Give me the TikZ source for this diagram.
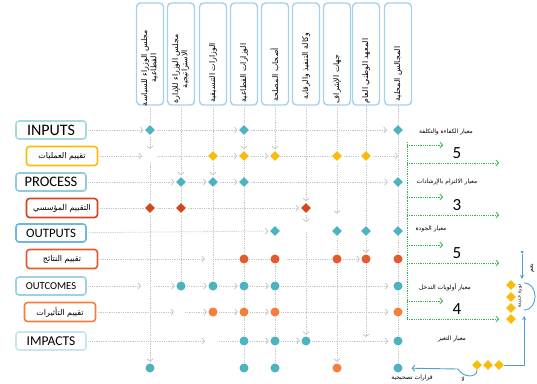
\documentclass[tikz,border=0pt]{standalone}
\usepackage{fontspec}
\setmainfont{Carlito}
\newfontfamily\arabicfont[Script=Arabic]{DejaVu Sans}
\TeXXeTstate=1
\usetikzlibrary{positioning,arrows.meta,shapes.geometric}
\newcommand{\artext}[1]{{\arabicfont\beginR #1\endR}}
\newcommand{\twoline}[2]{\begin{tabular}{@{}c@{}}\artext{#1}\\\artext{#2}\end{tabular}}
\definecolor{teal1}{HTML}{4DB3C1}
\definecolor{gold1}{HTML}{F9BC0A}
\definecolor{red1}{HTML}{D6441E}
\definecolor{rorange}{HTML}{E55A2C}
\definecolor{orange1}{HTML}{F47E3C}
\definecolor{hblue}{HTML}{A5D0EE}
\definecolor{gline}{HTML}{C3C7C9}
\definecolor{gr1}{HTML}{2FB54F}
\definecolor{bl1}{HTML}{4B9ED6}
\definecolor{inbl}{HTML}{A6D8E0}
\definecolor{prbl}{HTML}{8ECCD8}
\definecolor{oubl}{HTML}{6CB8DF}
\definecolor{ocbl}{HTML}{9ED0E6}
\definecolor{imbl}{HTML}{C9E6EE}

\begin{document}
\begin{tikzpicture}[x=1pt, y=-1pt, >={Straight Barb[length=2.5pt,width=6pt]}]
\tikzset{head/.style={draw=hblue, line width=1.4pt, rounded corners=4pt, minimum width=27pt, minimum height=102pt, inner sep=0pt},
 htxt/.style={rotate=90, inner sep=0pt, font=\fontsize{7.8}{9.2}\selectfont},
 stage/.style={draw, line width=1.6pt, rounded corners=3pt, minimum width=70pt, minimum height=18pt, inner sep=0pt},
 evbox/.style={draw, line width=1.6pt, rounded corners=3pt, minimum width=71pt, minimum height=19pt, inner sep=0pt, font=\fontsize{8}{9}\selectfont},
 tdia/.style={diamond, fill=teal1, minimum size=10pt, inner sep=0pt},
 ydia/.style={tdia, fill=gold1}, rdia/.style={tdia, fill=red1},
 tdot/.style={circle, fill=teal1, minimum size=9pt, inner sep=0pt},
 rdot/.style={tdot, fill=rorange}, odot/.style={tdot, fill=orange1},
 ydec/.style={diamond, fill=gold1, minimum size=10pt, inner sep=0pt},
 gl/.style={draw=gline, densely dotted, line width=0.8pt, shorten <=1.5pt, shorten >=1.5pt},
 ga/.style={gl, ->},
 gdot/.style={draw=gr1, densely dotted, line width=0.8pt},
 gn/.style={gdot, ->},
 bl/.style={draw=bl1, line width=0.9pt},
 crit/.style={font=\fontsize{6}{7}\selectfont, inner sep=0pt},
 num/.style={font=\fontsize{17}{17}\selectfont, inner sep=0pt}}
\useasboundingbox (0,0) rectangle (537,383);

% grid of stages x actors
\foreach \r/\y in {1/130,2/156,3/182,4/208,5/231,6/259,7/286,8/312,9/341,10/368}
  \foreach \c/\x in {1/150,2/181,3/213,4/244,5/275,6/306,7/337,8/366,9/398}
    \coordinate (p\r-\c) at (\x,\y);

% actors
\foreach \c/\x in {1/150,2/181,3/213,4/244,5/275,6/306,7/337,8/366,9/398}
  \node[head] (h\c) at (\x,54) {};
\node[htxt, xshift=-14pt] (ht1) at (h1) {\twoline{مجلس الوزراء للسياسة}{القطاعية}};
\node[htxt, xshift=-15pt] (ht2) at (h2) {\twoline{مجلس الوزراء للإدارة}{الاستراتيجية}};
\node[htxt, xshift=-19pt] (ht3) at (h3) {\artext{الوزارات التنسيقية}};
\node[htxt, xshift=-19pt] (ht4) at (h4) {\artext{الوزارات القطاعية}};
\node[htxt, xshift=-21pt] (ht5) at (h5) {\artext{أصحاب المصلحة}};
\node[htxt, xshift=-12pt] (ht6) at (h6) {\artext{وكالة التنفيذ والرقابة}};
\node[htxt, xshift=-25pt] (ht7) at (h7) {\artext{جهات الإشراف}};
\node[htxt, xshift=-17pt] (ht8) at (h8) {\artext{المعهد الوطني العام}};
\node[htxt, xshift=-20pt] (ht9) at (h9) {\artext{المجالس المحلية}};

% stages
\node[stage, draw=inbl, font=\fontsize{16}{16}\selectfont] (inputs) at (51,130) {INPUTS};
\node[evbox, draw=gold1] (evops) at (62,156) {\artext{تقييم العمليات}};
\node[stage, draw=prbl, font=\fontsize{14.5}{15}\selectfont] (process) at (51,182) {PROCESS};
\node[evbox, draw=red1] (evinst) at (62,208) {\artext{التقييم المؤسسي}};
\node[stage, draw=oubl, font=\fontsize{12.8}{13}\selectfont] (outputs) at (51,233) {OUTPUTS};
\node[evbox, draw=rorange] (evres) at (62,259) {\artext{تقييم النتائج}};
\node[stage, draw=ocbl, font=\fontsize{10.6}{11}\selectfont] (outcomes) at (51,286) {OUTCOMES};
\node[evbox, draw=orange1] (evimp) at (60,312) {\artext{تقييم التأثيرات}};
\node[stage, draw=imbl, font=\fontsize{13.5}{14}\selectfont] (impacts) at (51,341) {IMPACTS};

% markers
\foreach \n/\s in {1-1/tdia,1-4/tdia,1-9/tdia,2-3/ydia,2-4/ydia,2-5/ydia,2-7/ydia,2-8/ydia,
  3-2/tdia,3-3/tdia,3-4/tdia,3-9/tdia,4-1/rdia,4-2/rdia,4-6/rdia,5-5/tdia,5-7/tdia,5-8/tdia,5-9/tdia,
  6-4/rdot,6-5/rdot,6-7/rdot,6-8/rdot,6-9/rdot,7-2/tdot,7-3/tdot,7-4/tdot,7-5/tdot,7-9/tdot,
  8-3/odot,8-4/odot,8-5/odot,8-9/odot,9-4/tdot,9-5/tdot,9-6/tdot,9-9/tdot,
  10-1/tdot,10-4/tdot,10-5/tdot,10-7/odot,10-9/tdot}
  \node[\s] (m\n) at (p\n) {};

% rows
\draw[ga] (inputs) -- (m1-1); \draw[ga] (m1-1) -- (m1-4); \draw[ga, shorten >=6pt] (m1-4) -- (m1-9);
\draw[ga, shorten >=8pt] (evops) -- (p2-1); \draw[gl, shorten <=7pt] (p2-1) -- (m2-3); \draw[ga] (m2-3) -- (m2-4); \draw[ga] (m2-4) -- (m2-5);
\draw[gl] (m2-5) -- (m2-7) -- (m2-8); \draw[ga, shorten >=0pt] (m2-8) -- (p2-9);
\draw[ga] (process) -- (m3-2); \draw[ga] (m3-2) -- (m3-3); \draw[ga] (m3-3) -- (m3-4); \draw[ga, shorten >=5pt] (m3-4) -- (m3-9);
\draw[gl] (evinst) -- (m4-1) -- (m4-2); \draw[ga] (m4-2) -- (m4-6);
\draw[ga] (outputs) -- (m5-5);
\draw[ga, shorten >=8pt] (evres) -- (p6-3); \draw[gl, shorten <=6pt] (p6-3) -- (m6-4) -- (m6-5) -- (m6-7); \draw[ga] (m6-7) -- (m6-8);
\draw[ga, shorten >=9pt] (outcomes) -- (p7-1); \draw[ga, shorten <=4pt] (p7-1) -- (m7-2); \draw[ga] (m7-2) -- (m7-3); \draw[ga] (m7-3) -- (m7-4);
\draw[ga] (m7-4) -- (m7-5); \draw[ga, shorten >=5pt] (m7-5) -- (m7-9);
\draw[ga, shorten >=7pt] (evimp) -- (p8-2); \draw[ga, shorten <=4pt] (p8-2) -- (m8-3); \draw[ga] (m8-3) -- (m8-4); \draw[ga] (m8-4) -- (m8-5);
\draw[ga, shorten >=5pt] (m8-5) -- (m8-9);
\draw[ga, shorten >=8pt] (impacts) -- (p9-3); \draw[gl, shorten <=6pt] (p9-3) -- (m9-4); \draw[ga] (m9-4) -- (m9-5); \draw[ga] (m9-5) -- (m9-6);
\draw[ga, shorten >=5pt] (m9-6) -- (m9-9);

% columns
\draw[gl] (h1) -- (m1-1); \draw[ga, shorten >=7pt] (m1-1) -- (p2-1); \draw[gl, shorten <=6pt] (p2-1) -- (m4-1); \draw[ga] (m4-1) -- (m10-1);
\draw[ga] (h2) -- (m3-2); \draw[gl] (m3-2) -- (m4-2) -- (m7-2);
\draw[gl] (h3) -- (m2-3); \draw[ga] (m2-3) -- (m3-3); \draw[gl] (m3-3) -- (m7-3);
\draw[gl] (h4) -- (m1-4); \draw[ga] (m1-4) -- (m2-4); \draw[gl] (m2-4) -- (m3-4) -- (m6-4) -- (m7-4) -- (m8-4) -- (m9-4) -- (m10-4);
\draw[ga] (h5) -- (m2-5); \draw[gl] (m6-5) -- (m7-5) -- (m8-5) -- (m9-5) -- (m10-5);
\draw[ga] (h6) -- (m4-6); \draw[ga, shorten >=9pt] (m4-6) -- (p5-6); \draw[ga, shorten <=1pt] (p5-6) -- (m9-6);
\draw[gl] (h7) -- (m2-7); \draw[ga, shorten >=12pt] (m2-7) -- (m5-7); \draw[gl] (m5-7) -- (m6-7); \draw[ga] (m6-7) -- (m10-7);
\draw[gl] (h8) -- (m2-8) -- (m5-8); \draw[ga] (m5-8) -- (m6-8); \draw[ga, shorten >=4pt] (m6-8) -- (p9-8);
\draw[gl] (h9) -- (m1-9) -- (p2-9) -- (m3-9) -- (p4-9) -- (m5-9) -- (m6-9) -- (m7-9) -- (m8-9) -- (m9-9) -- (m10-9);

% criteria and scores
\node[crit] (k1) at (446,132) {\artext{معيار الكفاءة والتكلفة}};
\node[crit] (k2) at (447,182) {\artext{معيار الالتزام بالإرشادات}};
\node[crit] (k3) at (431,229) {\artext{معيار الجودة}};
\node[crit] (k4) at (445,287) {\artext{معيار أولويات التدخل}};
\node[crit] (k5) at (452,339) {\artext{معيار التغير}};
\coordinate (gtop) at (407,142); \coordinate (gbot) at (407,319);
\draw[gdot] (gtop) -- (gbot);
\foreach \i/\y/\v in {1/153/5,2/205/3,3/253/5,4/309/4}{
  \node[num] (n\i) at (457,\y) {\v};
  \coordinate (sh\i) at (407,{\y-8}); \coordinate (she\i) at (443,{\y-8});
  \coordinate (lo\i) at (407,{\y+10}); \coordinate (loe\i) at (499,{\y+10});
  \draw[gn] (sh\i) -- (she\i); \draw[gn] (lo\i) -- (loe\i);}

% decision loop
\foreach \i/\y in {1/285,2/297,3/308,4/319} \node[ydec] (q\i) at (511,\y) {};
\foreach \i/\x in {1/477,2/488,3/499} \node[ydec] (t\i) at (\x,365) {};
\node[circle, fill=bl1, inner sep=0pt, minimum size=3pt] (dot) at (522,252) {};
\coordinate (ltop) at (522,279); \coordinate (lup) at (524,316);
\coordinate (arcA) at (524,283); \coordinate (arcB) at (524,310); \coordinate (dip) at (458,369);
\draw[bl, -{Stealth[length=4pt,width=4pt]}] (dot) -- (ltop);
\draw[bl, -{Stealth[length=4pt,width=4pt]}] (t3.east) -| (lup);
\draw[bl] (arcA) to[out=0, in=0, looseness=1.4] (arcB);
\draw[bl, ->, shorten >=9pt] (t1.south) .. controls (477,378) and (463,378) .. (dip) -- (m10-9);
\node[crit, rotate=90] (yes) at (532,268) {\artext{نعم}};
\node[crit, rotate=90, font=\fontsize{5}{6}\selectfont] (cyc) at (520,296) {\artext{دورة جديدة}};
\node[crit] (no) at (463,379) {\artext{لا}};
\node[crit] (corr) at (412,378) {\artext{قرارات تصحيحية}};
\end{tikzpicture}
\end{document}
